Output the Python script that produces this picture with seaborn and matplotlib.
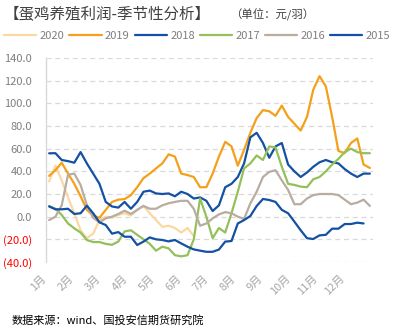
import matplotlib
matplotlib.use("Agg")
import matplotlib.pyplot as plt
import pandas as pd
import seaborn as sns

# Weekly layer-hen farming profit (yuan per hen), one list per year
years = ["2020", "2019", "2018", "2017", "2016", "2015"]

profit_2020 = [31, 45, 32, 17, 3, -12, -19, -15, -3, 0, -1, 1.5, 3, 1, 6, 9.7,
               3, -3, -9, -8, -10, -14, -10, -17]
profit_2019 = [36, 41, 47.6, 38, 29, 18, 6, 1, -1, 6, 13, 15, 15.5, 19, 26, 34,
               38, 42.6, 47, 55, 53, 38, 36.7, 35, 26, 26, 38, 53, 66, 62, 45, 59,
               74, 87, 94, 93, 89, 98, 88, 82, 76, 88, 112, 124, 115, 88, 58, 56,
               65, 69, 46, 43]
profit_2018 = [55.9, 56, 50, 49, 47.6, 57, 47, 38, 29, 13, 9, 8, 13, 7, 13, 22,
               23, 20.5, 20, 20.5, 18, 22, 20, 16, 17, 14, 5, 10, 26, 29, 35, 47,
               70, 74, 65, 52, 62, 65, 46, 40, 35, 39, 44, 48, 50, 48, 47, 42,
               38, 35, 38, 38]
profit_2017 = [9.4, 7, 1.5, -6, -10.3, -14, -20.6, -22.4, -22.4, -24, -24.8, -22,
               -13, -12, -16, -20, -24, -30, -26.5, -28, -34, -35, -34, -20, 16, 0,
               -19, -10, -14, 3, 22, 42.6, 47, 54, 50, 62, 61, 44, 29, 28, 26.5, 26,
               33, 35, 40, 46, 51, 57, 60, 57, 56, 56]
profit_2016 = [-3, 0, 10, 37, 38, 28, 10, -1, -5, -1.5, 0, 2.4, 5.3, 2.4, 6, 9.4,
               7, 7, 10, 11.8, 13, 14, 14, 7, -8, -6, -1.5, 2, 4, 3, 0, -2, 11.8,
               22, 35, 39.5, 41, 32, 23.6, 11, 11, 16, 19, 20, 20, 20, 19, 15, 11,
               12.4, 15, 9.5]
profit_2015 = [9, 6.5, 6.5, 7, 2.4, 3, 9.7, 3, -5, -7.4, -15, -13.6, -17.7, -17.7,
               -25, -22, -18.3, -20, -20.6, -21.8, -20.6, -23.6, -26.5, -28.9, -30,
               -31, -31, -29, -22, -21.5, -6, -3, 0.6, 9.4, 15.6, 14.7, 13, 6, 3,
               -4.4, -12, -19, -19.7, -16.5, -16, -10.6, -10.6, -6.5, -6.5, -5.3, -6]

months = ["1月", "2月", "3月", "4月", "5月", "6月",
          "7月", "8月", "9月", "10月", "11月", "12月"]

series = dict(zip(years, [profit_2020, profit_2019, profit_2018,
                          profit_2017, profit_2016, profit_2015]))

palette = {
    "2020": "#FBD8A2",
    "2019": "#F5A01A",
    "2018": "#1450A3",
    "2017": "#93C05A",
    "2016": "#B9ACA1",
    "2015": "#1450A3",
}

rows = [(yr, wk, val) for yr, vals in series.items() for wk, val in enumerate(vals)]
df = pd.DataFrame(rows, columns=["year", "week", "profit"])

sns.set_style("white")
plt.rcParams["font.family"] = ["Noto Sans CJK SC", "DejaVu Sans"]

fig = plt.figure(figsize=(3.98, 3.31), dpi=100)
ax = fig.add_axes([46 / 398, 1 - 262 / 331, 327 / 398, 204 / 331])

sns.lineplot(data=df, x="week", y="profit", hue="year", hue_order=years,
             palette=palette, linewidth=1.6, ax=ax, legend=True)

ax.set_xlim(-0.5, 51.5)
ax.set_ylim(-40, 140)
ax.set_xlabel("")
ax.set_ylabel("")

# y axis: accounting-style negatives in red
yticks = list(range(-40, 141, 20))
ax.set_yticks(yticks)
ax.set_yticklabels([f"({abs(v):.1f})" if v < 0 else f"{v:.1f}" for v in yticks])
for lbl, v in zip(ax.get_yticklabels(), yticks):
    lbl.set_color("#FF0000" if v < 0 else "#7F7F7F")
    lbl.set_fontsize(8)

month_pos = [-0.18 + 4.31 * k for k in range(12)]
ax.set_xticks(month_pos)
ax.set_xticklabels(months, rotation=45, ha="right", fontsize=8, color="#A6A6A6")

ax.tick_params(axis="both", length=0)
ax.tick_params(axis="y", pad=10)
ax.tick_params(axis="x", pad=8)

ax.yaxis.grid(True, linestyle=(0, (4, 3)), color="#D9D9D9", linewidth=0.9)
ax.xaxis.grid(False)
for side in ["top", "right", "bottom"]:
    ax.spines[side].set_visible(False)
ax.spines["left"].set_color("#D9D9D9")
ax.spines["left"].set_linewidth(1.0)

handles, labels = ax.get_legend_handles_labels()
ax.get_legend().remove()
fig.legend(handles, labels, loc="center left", bbox_to_anchor=(0.01, 1 - 36 / 331),
           ncol=6, frameon=False, fontsize=8, handlelength=2.9, handletextpad=0.3,
           columnspacing=0.45, borderpad=0, borderaxespad=0, labelcolor="#7F7F7F")

fig.text(0.008, 1 - 14 / 331, "【蛋鸡养殖利润-季节性分析】", fontsize=11.2,
         color="#404040", va="center", ha="left")
fig.text(230 / 398, 1 - 15 / 331, "（单位：元/羽）", fontsize=8.2,
         color="#404040", va="center", ha="left")
fig.text(12 / 398, 1 - 320 / 331, "数据来源：wind、国投安信期货研究院", fontsize=8,
         color="#000000", va="center", ha="left")

fig.savefig("out.png", dpi=100)
